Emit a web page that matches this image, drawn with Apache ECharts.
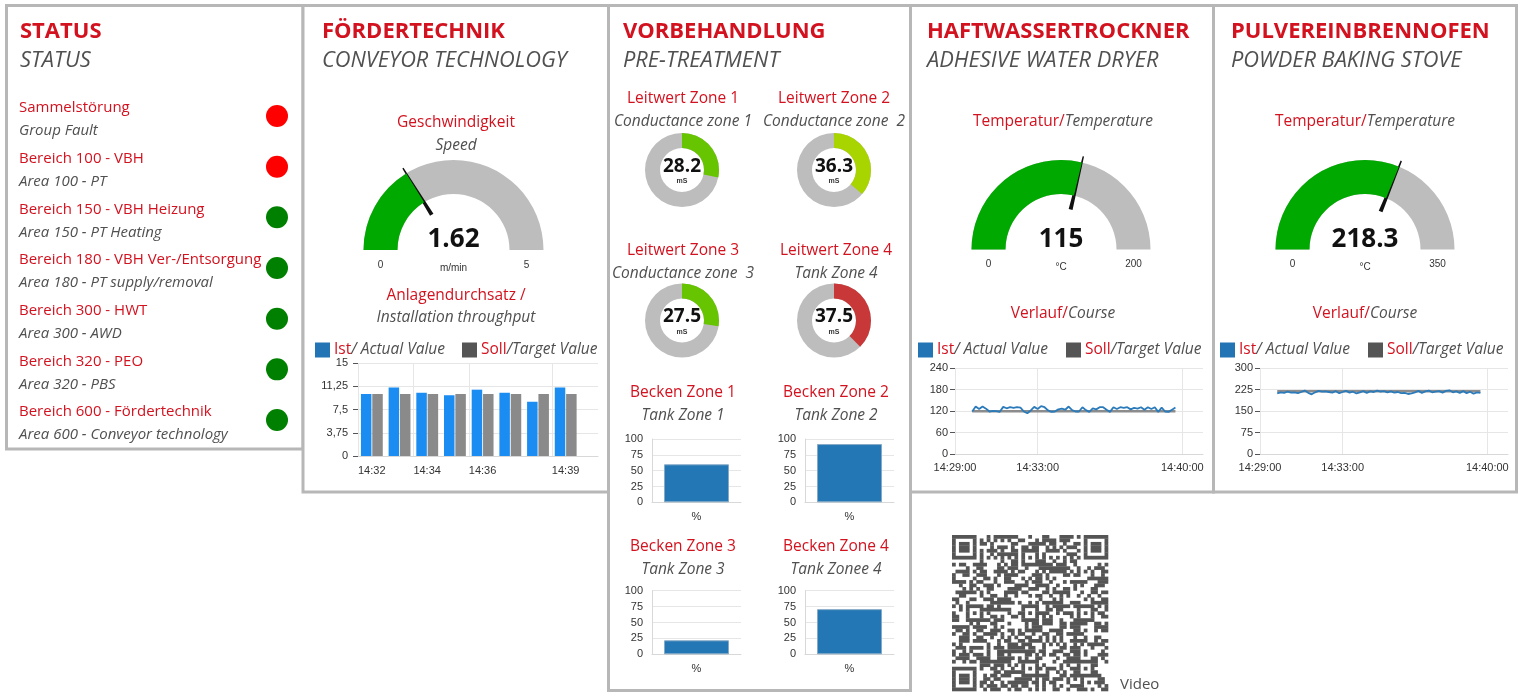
<!DOCTYPE html>
<html>
<head>
<meta charset="utf-8">
<title>Anlagenübersicht</title>
<script src="https://cdn.jsdelivr.net/npm/echarts@6.0.0/dist/echarts.min.js"></script>
<style>
html, body { margin: 0; padding: 0; background: #fff; }
#main { width: 1520px; height: 698px; }
</style>
</head>
<body>
<div id="main"></div>
<script>
// ---------- Daten ----------
var statusDe = ['Sammelstörung', 'Bereich 100 - VBH', 'Bereich 150 - VBH Heizung', 'Bereich 180 - VBH Ver-/Entsorgung',
    'Bereich 300 - HWT', 'Bereich 320 - PEO', 'Bereich 600 - Fördertechnik'];
var statusEn = ['Group Fault', 'Area 100 - PT', 'Area 150 - PT Heating', 'Area 180 - PT supply/removal',
    'Area 300 - AWD', 'Area 320 - PBS', 'Area 600 - Conveyor technology'];
var statusFault = [1, 1, 0, 0, 0, 0, 0];

// Fördertechnik
var speedValue = 1.62;
var speedRange = [0, 5];
var throughputTimes = ['14:32:30', '14:33:30', '14:34:30', '14:35:30', '14:36:30', '14:37:30', '14:38:30', '14:39:30'];
var throughputIst = [10.0, 11.05, 10.2, 9.8, 10.7, 10.2, 8.75, 11.05];
var throughputSoll = [10, 10, 10, 10, 10, 10, 10, 10];
var throughputTicks = ['14:32', '14:34', '14:36', '14:39'];
var throughputAxis = ['14:32:00', '14:40:40'];

// Vorbehandlung
var conductTitles = ['Leitwert Zone 1', 'Leitwert Zone 2', 'Leitwert Zone 3', 'Leitwert Zone 4'];
var conductSub = ['Conductance zone 1', 'Conductance zone  2', 'Conductance zone  3', 'Tank Zone 4'];
var conductValues = [28.2, 36.3, 27.5, 37.5];
var conductMax = 100;
var tankTitles = ['Becken Zone 1', 'Becken Zone 2', 'Becken Zone 3', 'Becken Zone 4'];
var tankSub = ['Tank Zone 1', 'Tank Zone 2', 'Tank Zone 3', 'Tank Zonee 4'];
var tankValues = [60, 92, 22, 71];

// Haftwassertrockner / Pulvereinbrennofen
var hwtTemp = 115, hwtRange = [0, 200];
var peoTemp = 218.3, peoRange = [0, 350];
var courseStart = '14:29:50', courseStep = 10; // Sekunden
var courseAxis = ['14:29:00', '14:41:00'];
var courseTicks = ['14:29:00', '14:33:00', '14:40:00'];
var hwtIst = [119, 133, 126, 133, 127, 119, 121, 120, 118, 132,
    128, 131, 129, 131, 130, 119, 114, 122, 132, 126,
    134, 131, 122, 118, 119, 125, 127, 124, 133, 123,
    119, 119, 131, 123, 118, 128, 125, 131, 131, 124,
    118, 131, 126, 131, 129, 131, 125, 129, 127, 131,
    124, 131, 126, 131, 118, 130, 119, 118, 124, 130];
var hwtSoll = [120, 120];
var peoIst = [212, 216, 214, 218, 215, 216, 213, 217, 222, 214,
    209, 216, 221, 218, 219, 217, 215, 220, 213, 217,
    221, 215, 218, 212, 216, 220, 214, 219, 217, 222,
    218, 220, 216, 219, 215, 217, 213, 214, 210, 212,
    216, 221, 214, 219, 222, 216, 218, 220, 215, 221,
    223, 216, 219, 214, 220, 213, 218, 211, 216, 214];
var peoSoll = [220, 220];

// ---------- Stil ----------
var RED = '#d3121f';
var GREY = '#505050';
var FONT = 'Open Sans';
var NUMFONT = 'Liberation Sans';
var NEEDLE = 'path://M2.3,0 L3.7,0 L5,57 L1,57 Z M0,100 L6,100 L6,100 Z';

function sec(s) {
    var p = s.split(':');
    return p[0] * 3600 + p[1] * 60 + (p[2] ? +p[2] : 0);
}
function hhmm(v, withSec) {
    var h = Math.floor(v / 3600), m = Math.floor((v % 3600) / 60), s = Math.round(v % 60);
    var r = h + ':' + (m < 10 ? '0' : '') + m;
    if (withSec) r += ':' + (s < 10 ? '0' : '') + s;
    return r;
}

var graphics = [];
function txt(x, y, text, o) {
    o = o || {};
    graphics.push({
        type: 'text', x: x, y: y + 2, z: 100, silent: true,
        style: {
            text: text, fill: o.color || RED, fontFamily: o.family || FONT,
            fontSize: o.size || 16, fontWeight: o.weight || 'normal', fontStyle: o.italic ? 'italic' : 'normal',
            align: o.align || 'left', verticalAlign: 'middle', rich: o.rich
        }
    });
}
// zrender-Rich-Text nimmt "fill" statt "color"
var richRG = {
    r: { fill: RED, fontFamily: FONT, fontSize: 15.5 },
    g: { fill: GREY, fontFamily: FONT, fontSize: 15.5, fontStyle: 'italic' }
};

// Panels
var panelBoxes = [[6.5, 5.5, 296.5, 443.5], [303, 5.5, 305.5, 486.5], [608.5, 5.5, 302, 685],
    [910.5, 5.5, 303, 486.5], [1213.5, 5.5, 303, 486.5]];
panelBoxes.forEach(function (b) {
    graphics.push({
        type: 'rect', z: 0, silent: true, shape: { x: b[0], y: b[1], width: b[2], height: b[3] },
        style: { fill: '#fff', stroke: '#b7b7b7', lineWidth: 3 }
    });
});

// Überschriften
var heads = [[20, 'STATUS', 'STATUS'], [322, 'FÖRDERTECHNIK', 'CONVEYOR TECHNOLOGY'],
    [623, 'VORBEHANDLUNG', 'PRE-TREATMENT'], [927, 'HAFTWASSERTROCKNER', 'ADHESIVE WATER DRYER'],
    [1231, 'PULVEREINBRENNOFEN', 'POWDER BAKING STOVE']];
heads.forEach(function (h) {
    txt(h[0], 30, h[1], { size: 22, weight: 'bold' });
    txt(h[0], 59, h[2], { size: 21.8, italic: true, color: GREY });
});

// Status
for (var i = 0; i < statusDe.length; i++) {
    var yy = 106 + i * 50.67;
    txt(19, yy, statusDe[i], { size: 15 });
    txt(19, yy + 23, statusEn[i], { size: 15, italic: true, color: GREY });
    graphics.push({
        type: 'circle', z: 100, silent: true, shape: { cx: 277, cy: yy + 10, r: 11 },
        style: { fill: statusFault[i] ? '#ff0000' : '#008000' }
    });
}

// Fördertechnik Texte
txt(456, 121, 'Geschwindigkeit', { size: 15.5, align: 'center' });
txt(456, 144, 'Speed', { size: 15.5, italic: true, color: GREY, align: 'center' });
txt(456, 294, 'Anlagendurchsatz /', { size: 15.5, align: 'center' });
txt(456, 316, 'Installation throughput', { size: 15.5, italic: true, color: GREY, align: 'center' });

// Vorbehandlung Texte
var zoneX = [683, 834, 683, 836];
var conductY = [97, 97, 249, 249];
for (i = 0; i < 4; i++) {
    txt(zoneX[i], conductY[i], conductTitles[i], { size: 15.5, align: 'center' });
    txt(zoneX[i], conductY[i] + 23, conductSub[i], { size: 15.5, italic: true, color: GREY, align: 'center' });
}
var tankLblX = [683, 836, 683, 836];
var tankLblY = [391, 391, 545, 545];
for (i = 0; i < 4; i++) {
    txt(tankLblX[i], tankLblY[i], tankTitles[i], { size: 15.5, align: 'center' });
    txt(tankLblX[i], tankLblY[i] + 23, tankSub[i], { size: 15.5, italic: true, color: GREY, align: 'center' });
}

// Temperatur Texte
[1063, 1365].forEach(function (cx) {
    txt(cx, 120, '{r|Temperatur/}{g|Temperature}', { align: 'center', rich: richRG });
    txt(cx, 312, '{r|Verlauf/}{g|Course}', { align: 'center', rich: richRG });
});

// Gauge min/max Beschriftung
function gaugeEnds(cx, cy, r, w, range) {
    txt(cx - r + w / 2, cy + 13, String(range[0]), { size: 10, color: '#333', family: NUMFONT, align: 'center' });
    txt(cx + r - w / 2, cy + 13, String(range[1]), { size: 10, color: '#333', family: NUMFONT, align: 'center' });
}
gaugeEnds(453.5, 250, 90, 34, speedRange);
gaugeEnds(1061, 249.5, 89.5, 34, hwtRange);
gaugeEnds(1365, 249.5, 89.5, 34, peoRange);

// QR-Code (nur Dekoration, angenähert)
(function () {
    var N = 45, X0 = 952, Y0 = 535, M = 156 / N;
    var align = [[6, 22], [22, 6], [22, 22], [22, 38], [38, 22], [38, 38]];
    function inFinder(r, c) {
        var f = [[0, 0], [0, 38], [38, 0]];
        for (var k = 0; k < 3; k++) {
            var rr = r - f[k][0], cc = c - f[k][1];
            if (rr >= -1 && rr <= 7 && cc >= -1 && cc <= 7) {
                if (rr < 0 || rr > 6 || cc < 0 || cc > 6) return 0;
                if (rr === 0 || rr === 6 || cc === 0 || cc === 6) return 1;
                if (rr >= 2 && rr <= 4 && cc >= 2 && cc <= 4) return 1;
                return 0;
            }
        }
        return -1;
    }
    function dark(r, c) {
        var f = inFinder(r, c);
        if (f >= 0) return f;
        for (var k = 0; k < align.length; k++) {
            var dr = Math.abs(r - align[k][0]), dc = Math.abs(c - align[k][1]);
            if (dr <= 2 && dc <= 2) return (dr === 2 || dc === 2 || (dr === 0 && dc === 0)) ? 1 : 0;
        }
        if (r === 6) return c % 2 === 0 ? 1 : 0;
        if (c === 6) return r % 2 === 0 ? 1 : 0;
        var h = Math.imul(r + 11, 374761393) + Math.imul(c + 7, 668265263) | 0;
        h = Math.imul(h ^ (h >>> 13), 1274126177);
        return ((h ^ (h >>> 16)) >>> 3) & 1;
    }
    for (var r = 0; r < N; r++) {
        var c = 0;
        while (c < N) {
            if (dark(r, c)) {
                var s = c;
                while (c < N && dark(r, c)) c++;
                graphics.push({
                    type: 'rect', z: 50, silent: true,
                    shape: { x: X0 + s * M, y: Y0 + r * M, width: (c - s) * M + 0.3, height: M + 0.3 },
                    style: { fill: '#555' }
                });
            } else c++;
        }
    }
    txt(1120, 683, 'Video', { size: 15, color: GREY });
})();

// ---------- Koordinatensysteme ----------
var grids = [], xAxes = [], yAxes = [], series = [], legends = [];
var axisLbl = { fontFamily: NUMFONT, fontSize: 11, color: '#333' };
var split = { show: true, lineStyle: { color: '#e6e6e6', width: 1 } };

// kleine Beckenbalken (Grid 0-3)
var tankGrids = [[652, 439, 89, 63.3], [805, 439, 89, 63.3], [652, 590.7, 89, 63.6], [805, 590.7, 89, 63.6]];
for (i = 0; i < 4; i++) {
    grids.push({ left: tankGrids[i][0], top: tankGrids[i][1], width: tankGrids[i][2], height: tankGrids[i][3] });
    xAxes.push({
        type: 'category', gridIndex: i, data: ['%'],
        axisLine: { lineStyle: { color: '#d8d8d8' } }, axisTick: { show: false },
        axisLabel: Object.assign({ margin: 9 }, axisLbl)
    });
    yAxes.push({
        type: 'value', gridIndex: i, min: 0, max: 100, interval: 25,
        axisLine: { show: true, lineStyle: { color: '#d8d8d8' } },
        axisLabel: Object.assign({ margin: 9 }, axisLbl), splitLine: split
    });
    series.push({
        type: 'bar', xAxisIndex: i, yAxisIndex: i, barWidth: 65, data: [tankValues[i]],
        itemStyle: { color: '#2277b4', borderColor: '#86a9c7', borderWidth: 1 }
    });
}

// Anlagendurchsatz (Grid 4)
grids.push({ left: 358, top: 363, width: 240, height: 93 });
xAxes.push({
    type: 'value', gridIndex: 4, min: sec(throughputAxis[0]), max: sec(throughputAxis[1]),
    axisLine: { lineStyle: { color: '#d8d8d8' } },
    axisTick: { show: false, customValues: throughputTicks.map(sec) },
    axisLabel: Object.assign({ margin: 9, align: 'left', customValues: throughputTicks.map(sec),
        formatter: function (v) { return hhmm(v); } }, axisLbl),
    splitLine: split
});
yAxes.push({
    type: 'value', gridIndex: 4, min: 0, max: 15, interval: 3.75,
    axisLine: { show: false },
    axisLabel: Object.assign({ margin: 10, formatter: function (v) { return String(v).replace('.', ','); } }, axisLbl),
    splitLine: split
});
series.push({
    name: 'Ist_F', type: 'bar', xAxisIndex: 4, yAxisIndex: 4, barWidth: 10.5, barGap: '8%',
    itemStyle: { color: '#1b8df2' },
    data: throughputTimes.map(function (t, k) { return [sec(t), throughputIst[k]]; })
});
series.push({
    name: 'Soll_F', type: 'bar', xAxisIndex: 4, yAxisIndex: 4, barWidth: 10.5, barGap: '8%',
    itemStyle: { color: '#8a8a8a' },
    data: throughputTimes.map(function (t, k) { return [sec(t), throughputSoll[k]]; })
});

// Verläufe (Grid 5, 6)
var courseGrids = [[955, 368.3, 248, 85.7, 240, 60], [1260, 368.3, 248, 85.7, 300, 75]];
var courseIst = [hwtIst, peoIst], courseSoll = [hwtSoll, peoSoll], tags = ['H', 'P'];
for (i = 0; i < 2; i++) {
    var gi = 5 + i, g = courseGrids[i];
    grids.push({ left: g[0], top: g[1], width: g[2], height: g[3] });
    xAxes.push({
        type: 'value', gridIndex: gi, min: sec(courseAxis[0]), max: sec(courseAxis[1]),
        axisLine: { lineStyle: { color: '#d8d8d8' } },
        axisTick: { show: false, customValues: courseTicks.map(sec) },
        axisLabel: Object.assign({ margin: 8, customValues: courseTicks.map(sec),
            formatter: function (v) { return hhmm(v, true); } }, axisLbl),
        splitLine: split
    });
    yAxes.push({
        type: 'value', gridIndex: gi, min: 0, max: g[4], interval: g[5],
        axisLine: { show: false },
        axisLabel: Object.assign({ margin: 7 }, axisLbl), splitLine: split
    });
    var t0 = sec(courseStart);
    var ist = courseIst[i];
    var tEnd = t0 + (ist.length - 1) * courseStep;
    series.push({
        name: 'Soll_' + tags[i], type: 'line', xAxisIndex: gi, yAxisIndex: gi, symbol: 'none',
        lineStyle: { color: '#8c8c8c', width: 2.5 }, itemStyle: { color: '#8c8c8c' },
        data: [[t0, courseSoll[i][0]], [tEnd, courseSoll[i][1]]]
    });
    series.push({
        name: 'Ist_' + tags[i], type: 'line', xAxisIndex: gi, yAxisIndex: gi, symbol: 'none',
        lineStyle: { color: '#2b7bba', width: 1.8 }, itemStyle: { color: '#2b7bba' },
        data: ist.map(function (v, k) { return [t0 + k * courseStep, v]; })
    });
}

// Legenden
function legendFmt(name) {
    return name.indexOf('Ist') === 0 ? '{r|Ist}{g|/ Actual Value}' : '{r|Soll}{g|/Target Value}';
}
var legendPos = [['F', 315, 462], ['H', 918, 1066], ['P', 1220, 1368]];
legendPos.forEach(function (p) {
    [['Ist_' + p[0], p[1], '#2274b5'], ['Soll_' + p[0], p[2], '#555555']].forEach(function (it) {
        legends.push({
            left: it[1], top: 342, padding: 0, itemWidth: 15, itemHeight: 15, icon: 'rect', itemGap: 0,
            selectedMode: false, formatter: legendFmt,
            data: [{ name: it[0], itemStyle: { color: it[2], borderWidth: 0 } }],
            textStyle: { padding: [0, 0, 0, -1], rich: {
                r: { color: RED, fontFamily: FONT, fontSize: 15.5 },
                g: { color: GREY, fontFamily: FONT, fontSize: 15.5, fontStyle: 'italic' }
            } }
        });
    });
});

// Tacho-Anzeigen
function halfGauge(center, r, range, value, unit) {
    return {
        type: 'gauge', center: center, radius: r, startAngle: 180, endAngle: 0,
        min: range[0], max: range[1],
        axisLine: { lineStyle: { width: 34, color: [[1, '#bdbdbd']] } },
        progress: { show: true, width: 34, itemStyle: { color: '#00a900' } },
        splitLine: { show: false }, axisTick: { show: false }, axisLabel: { show: false },
        pointer: { icon: NEEDLE, length: '107%', width: 6, itemStyle: { color: '#111' } },
        anchor: { show: false },
        title: { offsetCenter: [0, 18], fontSize: 10, color: '#333', fontFamily: NUMFONT },
        detail: { offsetCenter: [0, -10], fontSize: 26, fontWeight: 'bold', color: '#111', fontFamily: FONT,
            formatter: function (v) { return String(v); } },
        data: [{ value: value, name: unit }]
    };
}
series.push(halfGauge([453.5, 250], 90, speedRange, speedValue, 'm/min'));
series.push(halfGauge([1061, 249.5], 89.5, hwtRange, hwtTemp, '°C'));
series.push(halfGauge([1365, 249.5], 89.5, peoRange, peoTemp, '°C'));

// Leitwert-Ringe
var ringCenters = [[682, 170], [834, 170], [682, 320.5], [834, 320.5]];
var ringColors = ['#66c400', '#a8d400', '#66c400', '#c93838'];
for (i = 0; i < 4; i++) {
    series.push({
        type: 'gauge', center: ringCenters[i], radius: 37, startAngle: 90, endAngle: -270,
        min: 0, max: conductMax,
        axisLine: { lineStyle: { width: 15, color: [[1, '#bdbdbd']] } },
        progress: { show: true, width: 15, itemStyle: { color: ringColors[i] } },
        splitLine: { show: false }, axisTick: { show: false }, axisLabel: { show: false },
        pointer: { show: false }, anchor: { show: false }, title: { show: false },
        detail: { offsetCenter: [0, 1], formatter: function (v) { return '{v|' + v + '}\n{u|mS}'; },
            rich: { v: { fontSize: 19, fontWeight: 'bold', color: '#111', fontFamily: FONT, lineHeight: 21 },
                u: { fontSize: 7, color: '#333', fontFamily: NUMFONT, lineHeight: 9 } } },
        data: [{ value: conductValues[i] }]
    });
}

var myChart = echarts.init(document.getElementById('main'));
myChart.setOption({
    animation: false,
    textStyle: { fontFamily: FONT },
    graphic: { elements: graphics },
    legend: legends,
    grid: grids,
    xAxis: xAxes,
    yAxis: yAxes,
    series: series
});
</script>
</body>
</html>
